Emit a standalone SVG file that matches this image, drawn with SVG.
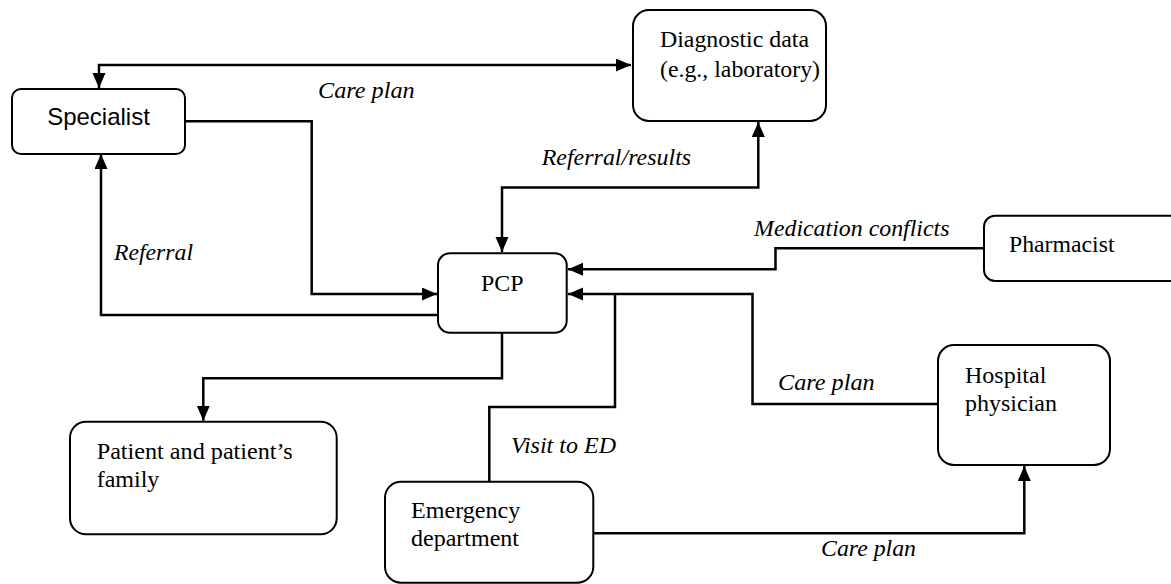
<svg xmlns="http://www.w3.org/2000/svg" width="1171" height="584" viewBox="0 0 1171 584">
<style>
.box{fill:#fff;stroke:#000;stroke-width:2}
.t{font-family:'Liberation Serif','Tinos','Noto Serif','DejaVu Serif','Times New Roman',serif;font-size:24px;fill:#000}
.s{font-family:'Liberation Sans',Arial,sans-serif;font-size:24px;fill:#000}
.lbl{font-family:'Liberation Serif','Tinos','Noto Serif','DejaVu Serif','Times New Roman',serif;font-size:24px;font-style:italic;fill:#000}
.c{fill:none;stroke:#000;stroke-width:2.5}
.a{marker-end:url(#ah)}
.b{marker-start:url(#ah);marker-end:url(#ah)}
</style>
<defs>
<marker id="ah" markerUnits="userSpaceOnUse" markerWidth="16" markerHeight="14" refX="15" refY="6.5" orient="auto-start-reverse" viewBox="0 0 16 14">
<path d="M0,0 L15,6.5 L0,13 z" fill="#000"/>
</marker>
</defs>
<rect width="1171" height="584" fill="#fff"/>
<g id="connectors">
<path class="c b" d="M631,65 H99 V88"/>
<path class="c a" d="M185,121.3 H311.7 V294 H437"/>
<path class="c a" d="M438,315 H101 V154"/>
<path class="c b" d="M502,252 V187.5 H758.3 V122"/>
<path class="c a" d="M984,248.3 H775.5 V269.3 H568"/>
<path class="c a" d="M938,404 H752.5 V294 H568"/>
<path class="c" d="M489.3,481.7 V407 H615 V294"/>
<path class="c a" d="M502,333 V378.3 H203.3 V420.7"/>
<path class="c a" d="M593,533.3 H1024.3 V466"/>
</g>
<g id="labels">
<text class="lbl" x="318" y="98" textLength="96.7" lengthAdjust="spacingAndGlyphs">Care plan</text>
<text class="lbl" x="541.7" y="165" textLength="149.5" lengthAdjust="spacingAndGlyphs">Referral/results</text>
<text class="lbl" x="114" y="260" textLength="79" lengthAdjust="spacingAndGlyphs">Referral</text>
<text class="lbl" x="754" y="236" textLength="195.5" lengthAdjust="spacingAndGlyphs">Medication conflicts</text>
<text class="lbl" x="778" y="390" textLength="96.7" lengthAdjust="spacingAndGlyphs">Care plan</text>
<text class="lbl" x="511" y="453" textLength="105" lengthAdjust="spacingAndGlyphs">Visit to ED</text>
<text class="lbl" x="821" y="556" textLength="95" lengthAdjust="spacingAndGlyphs">Care plan</text>
</g>
<g id="specialist">
<rect class="box" x="12" y="89" width="173" height="65" rx="9"/>
<text class="s" x="98.5" y="125" text-anchor="middle">Specialist</text>
</g>
<g id="diagnostic">
<rect class="box" x="633" y="10" width="193" height="111" rx="16"/>
<text class="t" x="660" y="47" textLength="149" lengthAdjust="spacingAndGlyphs">Diagnostic data</text>
<text class="t" x="660" y="77" textLength="160" lengthAdjust="spacingAndGlyphs">(e.g., laboratory)</text>
</g>
<g id="pcp">
<rect class="box" x="438" y="253.3" width="128.7" height="79.4" rx="12"/>
<text class="t" x="481" y="290.7" textLength="42.5" lengthAdjust="spacingAndGlyphs">PCP</text>
</g>
<g id="pharmacist">
<rect class="box" x="984" y="215.7" width="200" height="65.3" rx="11"/>
<text class="t" x="1009" y="251.7" textLength="105.5" lengthAdjust="spacingAndGlyphs">Pharmacist</text>
</g>
<g id="hospital">
<rect class="box" x="938" y="345" width="172" height="120" rx="16"/>
<text class="t" x="965" y="382.7" textLength="81.3" lengthAdjust="spacingAndGlyphs">Hospital</text>
<text class="t" x="965" y="410.7" textLength="92" lengthAdjust="spacingAndGlyphs">physician</text>
</g>
<g id="patient">
<rect class="box" x="70" y="421.7" width="266.7" height="112.6" rx="16"/>
<text class="t" x="96.7" y="459.3" textLength="196" lengthAdjust="spacingAndGlyphs">Patient and patient’s</text>
<text class="t" x="96.7" y="487.3" textLength="62.7" lengthAdjust="spacingAndGlyphs">family</text>
</g>
<g id="ed">
<rect class="box" x="385" y="481.7" width="208.3" height="101" rx="16"/>
<text class="t" x="411" y="518.3" textLength="109.3" lengthAdjust="spacingAndGlyphs">Emergency</text>
<text class="t" x="411" y="546" textLength="108" lengthAdjust="spacingAndGlyphs">department</text>
</g>
</svg>
